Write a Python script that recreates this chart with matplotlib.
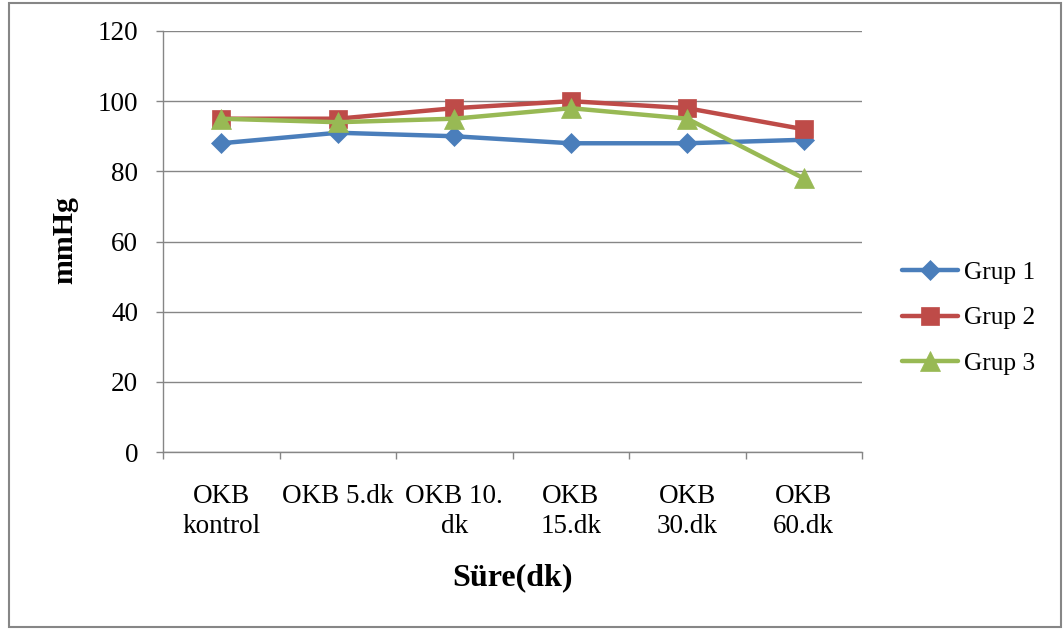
import matplotlib
matplotlib.use("Agg")
import matplotlib.pyplot as plt
from matplotlib.patches import Rectangle
import numpy as np

categories = ["OKB\nkontrol", "OKB 5.dk", "OKB 10.\ndk", "OKB\n15.dk", "OKB\n30.dk", "OKB\n60.dk"]
grup1 = [88, 91, 90, 88, 88, 89]
grup2 = [95, 95, 98, 100, 98, 92]
grup3 = [95, 94, 95, 98, 95, 78]
series_names = ["Grup 1", "Grup 2", "Grup 3"]
colors = ["#4A7EBB", "#BE4B48", "#98B954"]
markers = ["D", "s", "^"]
yticks = [0, 20, 40, 60, 80, 100, 120]

plt.rcParams['font.family'] = ['Liberation Serif', 'DejaVu Serif']

fig = plt.figure(figsize=(10.63, 6.30), dpi=100)
ax = fig.add_axes([163/1063, 1-452/630, (862-163)/1063, (452-31)/630])

x = np.arange(len(categories))
msizes = [10.5, 13.5, 14]
for vals, name, c, m, ms in zip([grup1, grup2, grup3], series_names, colors, markers, msizes):
    ax.plot(x, vals, color=c, lw=3.2, marker=m, markersize=ms, label=name,
            markeredgecolor=c, markeredgewidth=0.5,
            solid_joinstyle='round', solid_capstyle='round')

ax.set_ylim(0, 120)
ax.set_yticks(yticks)
ax.set_xlim(-0.5, len(categories) - 0.5)
ax.set_xticks(x)
ax.set_xticklabels(categories, fontsize=19.5, linespacing=1.25)
ax.set_xticks(np.arange(-0.5, len(categories)), minor=True)
ax.tick_params(axis='x', which='major', length=0, pad=23)
ax.tick_params(axis='x', which='minor', length=5, color='#868686', width=1)
ax.tick_params(axis='y', length=5, color='#868686', width=1, labelsize=19.5, pad=13)
ax.yaxis.grid(True, color='#868686', lw=1)
ax.set_axisbelow(True)
for s in ['top', 'right']:
    ax.spines[s].set_visible(False)
for s in ['left', 'bottom']:
    ax.spines[s].set_color('#868686')
    ax.spines[s].set_linewidth(1)

ax.set_xlabel("Süre(dk)", fontsize=23, fontweight='bold', va='center')
ax.xaxis.set_label_coords(0.5, (452-578)/421)
ax.set_ylabel("mmHg", fontsize=21.5, fontweight='bold', va='center')
ax.yaxis.set_label_coords((65-163)/699, (452-240)/421)

fig.legend(loc='center left', bbox_to_anchor=(892/1063, 1-318/630), frameon=False,
           fontsize=18.3, handlelength=2.2, labelspacing=0.9, handletextpad=0.25, borderaxespad=0)

fig.patches.append(Rectangle((9/1063, 3/630), (1061-9)/1063, (627-3)/630, transform=fig.transFigure,
                             fill=False, edgecolor='#868686', lw=1.5))

fig.savefig("out.png", dpi=100)
